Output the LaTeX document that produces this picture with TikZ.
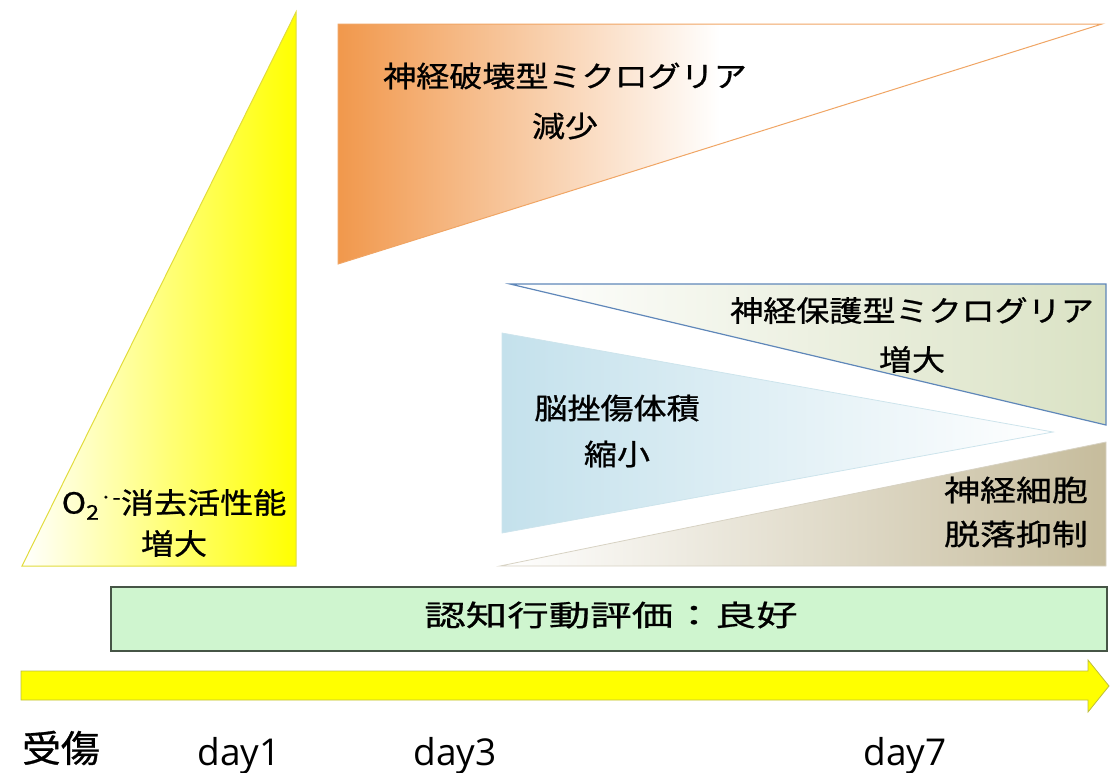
\documentclass[tikz,border=0pt]{standalone}
\usepackage{fontspec}
\newfontfamily\jpA[FakeStretch=1.14,FakeBold=0.8]{Noto Sans CJK JP}
\newfontfamily\jpB[FakeStretch=1.24,FakeBold=0.8]{Noto Sans CJK JP}
\newfontfamily\jpC[FakeStretch=1.43,FakeBold=0.8]{Noto Sans CJK JP}
\newfontfamily\jpD[FakeStretch=1.05,FakeBold=0.8]{Noto Sans CJK JP}
\newfontfamily\latf{Open Sans}
\definecolor{yel}{RGB}{255,255,0}
\definecolor{yeledge}{RGB}{225,220,60}
\definecolor{orL}{RGB}{241,152,76}
\definecolor{oredge}{RGB}{240,165,100}
\definecolor{protR}{RGB}{218,226,196}
\definecolor{protedge}{RGB}{95,135,185}
\definecolor{bluL}{RGB}{196,225,236}
\definecolor{bluedge}{RGB}{205,228,236}
\definecolor{tanR}{RGB}{198,188,156}
\definecolor{tanedge}{RGB}{215,210,195}
\definecolor{boxfill}{RGB}{207,245,207}
\definecolor{boxedge}{RGB}{70,85,70}
\definecolor{arredge}{RGB}{190,190,60}
\tikzset{
  lblA/.style={align=center, inner sep=0pt, font=\jpA\fontsize{29}{48}\selectfont},
  daylbl/.style={inner sep=0pt, anchor=base, font=\latf\fontsize{37}{40}\selectfont}
}
\begin{document}
\begin{tikzpicture}[x=1pt,y=-1pt]
\useasboundingbox (0,0) rectangle (1110,772);
% yellow triangle
\shadedraw[left color=white, right color=yel, draw=yeledge, line width=1pt]
  (22,566) -- (296,12) -- (296,566) -- cycle;
% orange triangle
\shadedraw[left color=orL, right color=white, middle color=white, draw=oredge, line width=1pt]
  (338,24) -- (1102,24) -- (338,264) -- cycle;
% protective microglia
\shadedraw[left color=white, right color=protR, draw=protedge, line width=1.2pt]
  (510,284) -- (1106,284) -- (1106,425) -- cycle;
% contusion volume
\shadedraw[left color=bluL, right color=white, draw=bluedge, line width=0.8pt]
  (502,333) -- (502,533) -- (1053,432) -- cycle;
% neuron loss suppression
\shadedraw[left color=white, right color=tanR, draw=tanedge, line width=0.8pt]
  (500,566) -- (1106,566) -- (1106,442) -- cycle;
% evaluation box
\draw[fill=boxfill, draw=boxedge, line width=1.2pt] (111,587) rectangle (1107,651);
% time arrow
\path[fill=yel, draw=arredge, line width=0.8pt]
  (21,671) -- (1088,671) -- (1088,660) -- (1109,686) -- (1088,712) -- (1088,700) -- (21,700) -- cycle;
% labels
\node[lblA, font=\jpA\fontsize{29}{50}\selectfont] (destr) at (565,101) {神経破壊型ミクログリア\\減少};
\node[lblA, font=\jpA\fontsize{29}{49}\selectfont] (prot) at (912,335) {神経保護型ミクログリア\\増大};
\node[lblA, font=\jpA\fontsize{29}{46}\selectfont] (vol) at (617,431) {脳挫傷体積\\縮小};
\node[lblA, font=\jpB\fontsize{29}{44}\selectfont] (neur) at (1016,512) {神経細胞\\脱落抑制};
\node[lblA, font=\jpA\fontsize{29}{41}\selectfont] (sod) at (174,523) {O\textsubscript{2}\textsuperscript{·-}消去活性能\\増大};
\node[inner sep=0pt, font=\jpC\fontsize{29}{32}\selectfont] (evaltxt) at (611,615) {認知行動評価：良好};
\node[inner sep=0pt, font=\jpD\fontsize{37}{40}\selectfont] (inj) at (61,748) {受傷};
\node[daylbl] (d1) at (239,765) {day1};
\node[daylbl] (d3) at (455,765) {day3};
\node[daylbl] (d7) at (905,765) {day7};
\end{tikzpicture}
\end{document}
